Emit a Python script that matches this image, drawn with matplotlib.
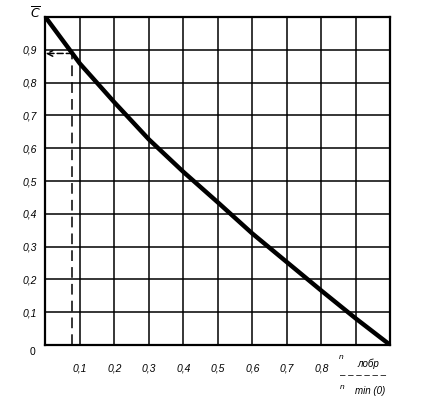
import numpy as np
import matplotlib
matplotlib.use('Agg')
import matplotlib.pyplot as plt

# curve (relative n -> C)
x_vals = [0.0, 0.1, 0.2, 0.3, 0.4, 0.5, 0.6, 0.7, 0.8, 0.9, 1.0]
c_vals = [1.0, 0.858, 0.74, 0.627, 0.528, 0.435, 0.34, 0.253, 0.166, 0.081, 0.0]

x_ticks = [0.1, 0.2, 0.3, 0.4, 0.5, 0.6, 0.7, 0.8]
x_labels = ['0,1', '0,2', '0,3', '0,4', '0,5', '0,6', '0,7', '0,8']
y_ticks = [0.1, 0.2, 0.3, 0.4, 0.5, 0.6, 0.7, 0.8, 0.9]
y_labels = ['0,1', '0,2', '0,3', '0,4', '0,5', '0,6', '0,7', '0,8', '0,9']

# example read-off point (dashed helper lines)
marker_x = 0.078

plt.rcParams['font.family'] = ['Liberation Sans', 'DejaVu Sans']

fig = plt.figure(figsize=(4.21, 3.98), dpi=100)
ax = fig.add_axes([0.108, 0.133, 0.819, 0.824])

ax.set_xlim(0, 1)
ax.set_ylim(0, 1)

# grid every 0.1
for g in np.arange(0.1, 1.0, 0.1):
    ax.axvline(g, color='black', lw=1.1, zorder=1)
    ax.axhline(g, color='black', lw=1.1, zorder=1)

for sp in ax.spines.values():
    sp.set_linewidth(1.6)

ax.plot(x_vals, c_vals, color='black', lw=3.2, solid_capstyle='butt',
        solid_joinstyle='round', zorder=3)

marker_y = np.interp(marker_x, x_vals, c_vals)
ax.plot([marker_x, marker_x], [0, marker_y], color='black', lw=1.1,
        dashes=(7, 4), zorder=2)
ax.annotate('', xy=(0.0, marker_y), xytext=(marker_x, marker_y),
            arrowprops=dict(arrowstyle='->', color='black', lw=1.1,
                            linestyle=(0, (4, 2)), shrinkA=0, shrinkB=0),
            zorder=2)

ax.set_xticks(x_ticks)
ax.set_xticklabels(x_labels, fontsize=7.5, fontstyle='italic')
ax.set_yticks(y_ticks)
ax.set_yticklabels(y_labels, fontsize=7.5, fontstyle='italic')
ax.tick_params(axis='both', length=0)
ax.tick_params(axis='x', pad=13)
ax.tick_params(axis='y', pad=6)

# origin and axis captions
ax.text(-0.03, -0.02, '0', transform=ax.transAxes, ha='right', va='center',
        fontsize=7.5)
ax.text(-0.015, 1.012, r'$\overline{C}$', transform=ax.transAxes, ha='right',
        va='center', fontsize=9)

fig.text(0.806, 0.101, 'n', fontsize=6, fontstyle='italic', ha='left', va='center')
fig.text(0.850, 0.085, 'лобр', fontsize=7, fontstyle='italic', ha='left', va='center')
fig.text(0.808, 0.058, '– – – – – –', fontsize=7, ha='left', va='center')
fig.text(0.808, 0.027, 'n', fontsize=6, fontstyle='italic', ha='left', va='center')
fig.text(0.843, 0.017, 'min (0)', fontsize=7, fontstyle='italic', ha='left', va='center')

fig.savefig('out.png', dpi=100)
